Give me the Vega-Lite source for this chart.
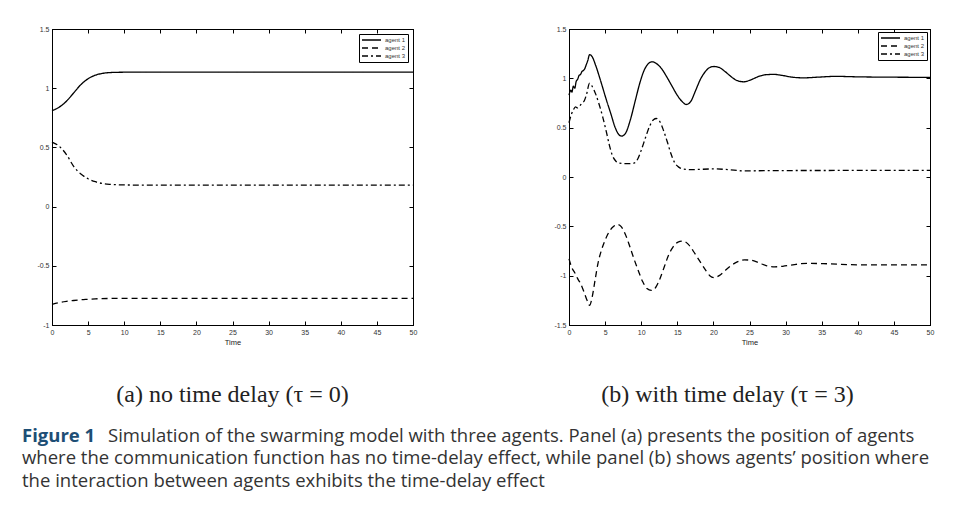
{
  "$schema": "https://vega.github.io/schema/vega-lite/v6.json",
  "background": "white",
  "padding": {"left": 22, "top": 24, "right": 0, "bottom": 0},
  "config": {
    "view": {"stroke": "black", "strokeWidth": 1},
    "axis": {"domainColor": "black", "domainWidth": 1, "tickColor": "black", "tickSize": -4, "labelFont": "Liberation Sans", "labelFontSize": 7, "labelColor": "#333", "grid": false, "titleFont": "Liberation Sans", "titleFontSize": 7.5, "titleFontWeight": "normal", "titleColor": "#222", "labelFlush": false, "labelPadding": 7},
    "legend": {"strokeColor": "black", "fillColor": "white", "padding": 2, "symbolType": "stroke", "symbolSize": 361, "symbolStrokeWidth": 1.3, "symbolStrokeColor": "black", "labelFont": "Liberation Sans", "labelFontSize": 6, "labelColor": "#333", "labelOffset": 3, "clipHeight": 8, "rowPadding": 0}
  },
  "datasets": {
    "a": [
      {"agent": "agent 1", "t": 0, "v": 0.81}, {"agent": "agent 1", "t": 1, "v": 0.84}, {"agent": "agent 1", "t": 2, "v": 0.89}, {"agent": "agent 1", "t": 3, "v": 0.96}, {"agent": "agent 1", "t": 4, "v": 1.03}, {"agent": "agent 1", "t": 5, "v": 1.08}, {"agent": "agent 1", "t": 6, "v": 1.11}, {"agent": "agent 1", "t": 7, "v": 1.125}, {"agent": "agent 1", "t": 8, "v": 1.132}, {"agent": "agent 1", "t": 10, "v": 1.135}, {"agent": "agent 1", "t": 15, "v": 1.136}, {"agent": "agent 1", "t": 50, "v": 1.136},
      {"agent": "agent 2", "t": 0, "v": -0.825}, {"agent": "agent 2", "t": 1, "v": -0.81}, {"agent": "agent 2", "t": 2, "v": -0.8}, {"agent": "agent 2", "t": 3, "v": -0.793}, {"agent": "agent 2", "t": 4, "v": -0.787}, {"agent": "agent 2", "t": 5, "v": -0.783}, {"agent": "agent 2", "t": 6, "v": -0.779}, {"agent": "agent 2", "t": 8, "v": -0.776}, {"agent": "agent 2", "t": 10, "v": -0.775}, {"agent": "agent 2", "t": 50, "v": -0.775},
      {"agent": "agent 3", "t": 0, "v": 0.545}, {"agent": "agent 3", "t": 1, "v": 0.51}, {"agent": "agent 3", "t": 2, "v": 0.44}, {"agent": "agent 3", "t": 3, "v": 0.34}, {"agent": "agent 3", "t": 4, "v": 0.275}, {"agent": "agent 3", "t": 5, "v": 0.235}, {"agent": "agent 3", "t": 6, "v": 0.21}, {"agent": "agent 3", "t": 7, "v": 0.195}, {"agent": "agent 3", "t": 8, "v": 0.188}, {"agent": "agent 3", "t": 10, "v": 0.183}, {"agent": "agent 3", "t": 15, "v": 0.181}, {"agent": "agent 3", "t": 50, "v": 0.181}
    ],
    "b": [
      {"agent": "agent 1", "t": 0, "v": 0.83}, {"agent": "agent 1", "t": 0.25, "v": 0.88}, {"agent": "agent 1", "t": 0.4, "v": 0.86}, {"agent": "agent 1", "t": 0.6, "v": 0.92}, {"agent": "agent 1", "t": 0.8, "v": 0.9}, {"agent": "agent 1", "t": 1.0, "v": 0.97}, {"agent": "agent 1", "t": 1.2, "v": 0.99}, {"agent": "agent 1", "t": 1.4, "v": 1.03}, {"agent": "agent 1", "t": 1.6, "v": 1.04}, {"agent": "agent 1", "t": 1.8, "v": 1.07}, {"agent": "agent 1", "t": 2.0, "v": 1.08}, {"agent": "agent 1", "t": 2.2, "v": 1.1}, {"agent": "agent 1", "t": 2.4, "v": 1.14}, {"agent": "agent 1", "t": 2.6, "v": 1.18}, {"agent": "agent 1", "t": 2.85, "v": 1.24}, {"agent": "agent 1", "t": 3.2, "v": 1.22}, {"agent": "agent 1", "t": 3.7, "v": 1.13}, {"agent": "agent 1", "t": 4.4, "v": 0.97}, {"agent": "agent 1", "t": 5.1, "v": 0.8}, {"agent": "agent 1", "t": 5.8, "v": 0.64}, {"agent": "agent 1", "t": 6.4, "v": 0.5}, {"agent": "agent 1", "t": 6.9, "v": 0.43}, {"agent": "agent 1", "t": 7.3, "v": 0.415}, {"agent": "agent 1", "t": 7.8, "v": 0.44}, {"agent": "agent 1", "t": 8.5, "v": 0.58}, {"agent": "agent 1", "t": 9.2, "v": 0.78}, {"agent": "agent 1", "t": 9.8, "v": 0.95}, {"agent": "agent 1", "t": 10.4, "v": 1.08}, {"agent": "agent 1", "t": 11.0, "v": 1.15}, {"agent": "agent 1", "t": 11.5, "v": 1.168}, {"agent": "agent 1", "t": 12.1, "v": 1.15}, {"agent": "agent 1", "t": 12.8, "v": 1.1}, {"agent": "agent 1", "t": 13.5, "v": 1.02}, {"agent": "agent 1", "t": 14.2, "v": 0.93}, {"agent": "agent 1", "t": 14.9, "v": 0.84}, {"agent": "agent 1", "t": 15.6, "v": 0.77}, {"agent": "agent 1", "t": 16.25, "v": 0.735}, {"agent": "agent 1", "t": 16.9, "v": 0.77}, {"agent": "agent 1", "t": 17.5, "v": 0.87}, {"agent": "agent 1", "t": 18.2, "v": 0.99}, {"agent": "agent 1", "t": 18.9, "v": 1.07}, {"agent": "agent 1", "t": 19.5, "v": 1.11}, {"agent": "agent 1", "t": 20.1, "v": 1.12}, {"agent": "agent 1", "t": 20.8, "v": 1.11}, {"agent": "agent 1", "t": 21.6, "v": 1.07}, {"agent": "agent 1", "t": 22.4, "v": 1.02}, {"agent": "agent 1", "t": 23.2, "v": 0.98}, {"agent": "agent 1", "t": 24.2, "v": 0.965}, {"agent": "agent 1", "t": 25.2, "v": 0.985}, {"agent": "agent 1", "t": 26.3, "v": 1.02}, {"agent": "agent 1", "t": 27.3, "v": 1.037}, {"agent": "agent 1", "t": 28.4, "v": 1.04}, {"agent": "agent 1", "t": 29.5, "v": 1.03}, {"agent": "agent 1", "t": 30.8, "v": 1.013}, {"agent": "agent 1", "t": 32.5, "v": 1.005}, {"agent": "agent 1", "t": 34.5, "v": 1.012}, {"agent": "agent 1", "t": 37, "v": 1.02}, {"agent": "agent 1", "t": 40, "v": 1.015}, {"agent": "agent 1", "t": 44, "v": 1.012}, {"agent": "agent 1", "t": 50, "v": 1.01},
      {"agent": "agent 2", "t": 0, "v": -0.83}, {"agent": "agent 2", "t": 0.4, "v": -0.92}, {"agent": "agent 2", "t": 0.8, "v": -0.97}, {"agent": "agent 2", "t": 1.2, "v": -1.03}, {"agent": "agent 2", "t": 1.6, "v": -1.08}, {"agent": "agent 2", "t": 2.0, "v": -1.15}, {"agent": "agent 2", "t": 2.5, "v": -1.25}, {"agent": "agent 2", "t": 2.85, "v": -1.3}, {"agent": "agent 2", "t": 3.2, "v": -1.22}, {"agent": "agent 2", "t": 3.6, "v": -1.05}, {"agent": "agent 2", "t": 4.0, "v": -0.88}, {"agent": "agent 2", "t": 4.5, "v": -0.74}, {"agent": "agent 2", "t": 5.0, "v": -0.64}, {"agent": "agent 2", "t": 5.6, "v": -0.55}, {"agent": "agent 2", "t": 6.2, "v": -0.5}, {"agent": "agent 2", "t": 6.7, "v": -0.48}, {"agent": "agent 2", "t": 7.2, "v": -0.5}, {"agent": "agent 2", "t": 7.8, "v": -0.58}, {"agent": "agent 2", "t": 8.4, "v": -0.7}, {"agent": "agent 2", "t": 9.0, "v": -0.83}, {"agent": "agent 2", "t": 9.6, "v": -0.95}, {"agent": "agent 2", "t": 10.2, "v": -1.06}, {"agent": "agent 2", "t": 10.8, "v": -1.13}, {"agent": "agent 2", "t": 11.4, "v": -1.15}, {"agent": "agent 2", "t": 12.0, "v": -1.12}, {"agent": "agent 2", "t": 12.6, "v": -1.03}, {"agent": "agent 2", "t": 13.2, "v": -0.91}, {"agent": "agent 2", "t": 13.8, "v": -0.79}, {"agent": "agent 2", "t": 14.4, "v": -0.71}, {"agent": "agent 2", "t": 15.1, "v": -0.66}, {"agent": "agent 2", "t": 15.8, "v": -0.65}, {"agent": "agent 2", "t": 16.5, "v": -0.68}, {"agent": "agent 2", "t": 17.2, "v": -0.75}, {"agent": "agent 2", "t": 18.0, "v": -0.84}, {"agent": "agent 2", "t": 18.8, "v": -0.93}, {"agent": "agent 2", "t": 19.5, "v": -1.0}, {"agent": "agent 2", "t": 20.1, "v": -1.02}, {"agent": "agent 2", "t": 20.8, "v": -1.0}, {"agent": "agent 2", "t": 21.6, "v": -0.95}, {"agent": "agent 2", "t": 22.4, "v": -0.9}, {"agent": "agent 2", "t": 23.3, "v": -0.86}, {"agent": "agent 2", "t": 24.3, "v": -0.84}, {"agent": "agent 2", "t": 25.3, "v": -0.845}, {"agent": "agent 2", "t": 26.3, "v": -0.87}, {"agent": "agent 2", "t": 27.4, "v": -0.9}, {"agent": "agent 2", "t": 28.5, "v": -0.91}, {"agent": "agent 2", "t": 29.6, "v": -0.905}, {"agent": "agent 2", "t": 31, "v": -0.89}, {"agent": "agent 2", "t": 33, "v": -0.875}, {"agent": "agent 2", "t": 36, "v": -0.88}, {"agent": "agent 2", "t": 40, "v": -0.89}, {"agent": "agent 2", "t": 45, "v": -0.89}, {"agent": "agent 2", "t": 50, "v": -0.89},
      {"agent": "agent 3", "t": 0, "v": 0.55}, {"agent": "agent 3", "t": 0.3, "v": 0.63}, {"agent": "agent 3", "t": 0.6, "v": 0.68}, {"agent": "agent 3", "t": 0.9, "v": 0.71}, {"agent": "agent 3", "t": 1.2, "v": 0.7}, {"agent": "agent 3", "t": 1.5, "v": 0.72}, {"agent": "agent 3", "t": 1.8, "v": 0.75}, {"agent": "agent 3", "t": 2.1, "v": 0.77}, {"agent": "agent 3", "t": 2.4, "v": 0.83}, {"agent": "agent 3", "t": 2.85, "v": 0.95}, {"agent": "agent 3", "t": 3.2, "v": 0.92}, {"agent": "agent 3", "t": 3.7, "v": 0.84}, {"agent": "agent 3", "t": 4.2, "v": 0.73}, {"agent": "agent 3", "t": 4.7, "v": 0.6}, {"agent": "agent 3", "t": 5.2, "v": 0.45}, {"agent": "agent 3", "t": 5.6, "v": 0.32}, {"agent": "agent 3", "t": 6.0, "v": 0.22}, {"agent": "agent 3", "t": 6.5, "v": 0.16}, {"agent": "agent 3", "t": 7.0, "v": 0.14}, {"agent": "agent 3", "t": 8.0, "v": 0.135}, {"agent": "agent 3", "t": 9.0, "v": 0.14}, {"agent": "agent 3", "t": 9.5, "v": 0.18}, {"agent": "agent 3", "t": 10.0, "v": 0.27}, {"agent": "agent 3", "t": 10.6, "v": 0.4}, {"agent": "agent 3", "t": 11.2, "v": 0.52}, {"agent": "agent 3", "t": 11.7, "v": 0.58}, {"agent": "agent 3", "t": 12.1, "v": 0.593}, {"agent": "agent 3", "t": 12.6, "v": 0.56}, {"agent": "agent 3", "t": 13.1, "v": 0.47}, {"agent": "agent 3", "t": 13.6, "v": 0.36}, {"agent": "agent 3", "t": 14.1, "v": 0.24}, {"agent": "agent 3", "t": 14.6, "v": 0.15}, {"agent": "agent 3", "t": 15.2, "v": 0.1}, {"agent": "agent 3", "t": 15.9, "v": 0.08}, {"agent": "agent 3", "t": 17, "v": 0.075}, {"agent": "agent 3", "t": 20, "v": 0.082}, {"agent": "agent 3", "t": 22, "v": 0.075}, {"agent": "agent 3", "t": 24.2, "v": 0.062}, {"agent": "agent 3", "t": 28, "v": 0.065}, {"agent": "agent 3", "t": 35, "v": 0.066}, {"agent": "agent 3", "t": 50, "v": 0.067}
    ],
    "cap": [
      {"line": 1, "part": "label", "txt": "Figure 1"},
      {"line": 1, "part": "first", "txt": "Simulation of the swarming model with three agents. Panel (a) presents the position of agents"},
      {"line": 2, "part": "body", "txt": "where the communication function has no time-delay effect, while panel (b) shows agents’ position where"},
      {"line": 3, "part": "body", "txt": "the interaction between agents exhibits the time-delay effect"}
    ]
  },
  "vconcat": [
    {
      "hconcat": [
        {
          "width": 361, "height": 296,
          "data": {"name": "a"},
          "title": {"text": "(a) no time delay (τ = 0)", "orient": "bottom", "anchor": "middle", "offset": 37, "font": "Liberation Serif", "fontSize": 24, "fontWeight": "normal", "color": "#222"},
          "layer": [
            {
              "mark": {"type": "line", "color": "black", "strokeWidth": 1.3, "interpolate": "monotone"},
              "encoding": {
                "x": {"field": "t", "type": "quantitative", "scale": {"domain": [0, 50], "nice": false, "zero": false}, "axis": {"orient": "bottom", "values": [0, 5, 10, 15, 20, 25, 30, 35, 40, 45, 50], "title": "Time", "titlePadding": 3}},
                "y": {"field": "v", "type": "quantitative", "scale": {"domain": [-1, 1.5], "nice": false, "zero": false}, "axis": {"orient": "left", "values": [-1, -0.5, 0, 0.5, 1, 1.5], "labelExpr": "datum.value + ''", "title": null}},
                "strokeDash": {"field": "agent", "type": "nominal", "scale": {"domain": ["agent 1", "agent 2", "agent 3"], "range": [[1, 0], [6, 4], [6, 3, 2, 3]]}, "legend": {"orient": "top-right", "title": null, "offset": 5}}
              }
            },
            {
              "mark": {"type": "line", "opacity": 0},
              "encoding": {
                "x": {"field": "t", "type": "quantitative", "axis": {"orient": "top", "values": [0, 5, 10, 15, 20, 25, 30, 35, 40, 45, 50], "labels": false, "title": null}},
                "y": {"field": "v", "type": "quantitative", "axis": {"orient": "right", "values": [-1, -0.5, 0, 0.5, 1, 1.5], "labels": false, "title": null}}
              }
            }
          ],
          "resolve": {"axis": {"x": "independent", "y": "independent"}}
        },
        {
          "width": 361, "height": 296,
          "data": {"name": "b"},
          "title": {"text": "(b) with time delay (τ = 3)", "orient": "bottom", "anchor": "middle", "offset": 37, "dx": -22, "font": "Liberation Serif", "fontSize": 24, "fontWeight": "normal", "color": "#222"},
          "layer": [
            {
              "mark": {"type": "line", "color": "black", "strokeWidth": 1.3, "interpolate": "monotone"},
              "encoding": {
                "x": {"field": "t", "type": "quantitative", "scale": {"domain": [0, 50], "nice": false, "zero": false}, "axis": {"orient": "bottom", "values": [0, 5, 10, 15, 20, 25, 30, 35, 40, 45, 50], "title": "Time", "titlePadding": 3}},
                "y": {"field": "v", "type": "quantitative", "scale": {"domain": [-1.5, 1.5], "nice": false, "zero": false}, "axis": {"orient": "left", "values": [-1.5, -1, -0.5, 0, 0.5, 1, 1.5], "labelExpr": "datum.value + ''", "title": null}},
                "strokeDash": {"field": "agent", "type": "nominal", "scale": {"domain": ["agent 1", "agent 2", "agent 3"], "range": [[1, 0], [6, 4], [6, 3, 2, 3]]}, "legend": {"orient": "top-right", "title": null, "offset": 3}}
              }
            },
            {
              "mark": {"type": "line", "opacity": 0},
              "encoding": {
                "x": {"field": "t", "type": "quantitative", "axis": {"orient": "top", "values": [0, 5, 10, 15, 20, 25, 30, 35, 40, 45, 50], "labels": false, "title": null}},
                "y": {"field": "v", "type": "quantitative", "axis": {"orient": "right", "values": [-1.5, -1, -0.5, 0, 0.5, 1, 1.5], "labels": false, "title": null}}
              }
            }
          ],
          "resolve": {"axis": {"x": "independent", "y": "independent"}}
        }
      ],
      "spacing": 135,
      "resolve": {"legend": {"strokeDash": "independent"}, "scale": {"strokeDash": "independent"}}
    },
    {
      "width": 870, "height": 67.5,
      "view": {"stroke": null},
      "data": {"name": "cap"},
      "encoding": {
        "y": {"field": "line", "type": "ordinal", "scale": {"type": "point", "padding": 0.5}, "axis": null},
        "x": {"datum": 0, "type": "quantitative", "scale": {"domain": [0, 1]}, "axis": null}
      },
      "layer": [
        {"transform": [{"filter": "datum.part == 'label'"}], "mark": {"type": "text", "align": "left", "baseline": "middle", "font": "Open Sans", "fontSize": 18.5, "fontWeight": "bold", "color": "#1d4e75", "dx": -30}, "encoding": {"text": {"field": "txt"}}},
        {"transform": [{"filter": "datum.part == 'first'"}], "mark": {"type": "text", "align": "left", "baseline": "middle", "font": "Open Sans", "fontSize": 18.5, "color": "#333", "dx": 56}, "encoding": {"text": {"field": "txt"}}},
        {"transform": [{"filter": "datum.part == 'body'"}], "mark": {"type": "text", "align": "left", "baseline": "middle", "font": "Open Sans", "fontSize": 18.5, "color": "#333", "dx": -30}, "encoding": {"text": {"field": "txt"}}}
      ]
    }
  ],
  "spacing": 17.5,
  "resolve": {"legend": {"strokeDash": "independent"}, "scale": {"strokeDash": "independent"}}
}
